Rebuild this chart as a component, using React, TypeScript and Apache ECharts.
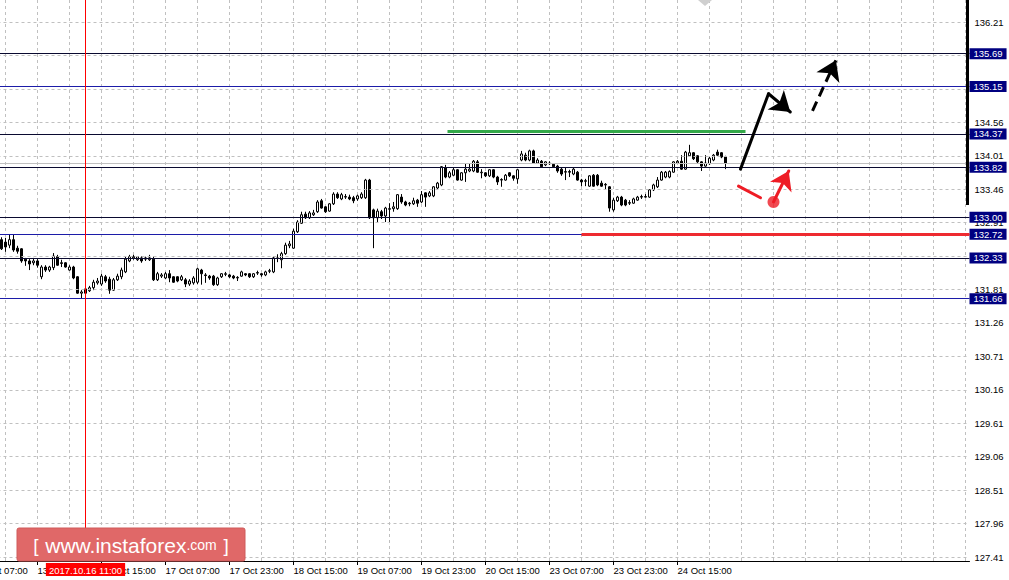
import React, { useEffect, useRef } from "react";
import * as echarts from "echarts";

// ---------- data ----------
const SLOT_COUNT = 259; // hourly slots on the time axis (incl. empty future area)
const FIRST_CANDLE_SLOT = 16;
const FIRST_LABEL_SLOT = 9;
const LABEL_EVERY = 16;
const GRID_EVERY = 8;

const tickLabels = [
  "13 Oct 07:00", "13 Oct 23:00", "16 Oct 15:00", "17 Oct 07:00", "17 Oct 23:00", "18 Oct 15:00",
  "19 Oct 07:00", "19 Oct 23:00", "20 Oct 15:00", "23 Oct 07:00", "23 Oct 23:00", "24 Oct 15:00",
];

const priceTicks = [
  136.21, 135.66, 135.11, 134.56, 134.01, 133.46, 132.91, 132.36, 131.81,
  131.26, 130.71, 130.16, 129.61, 129.06, 128.51, 127.96, 127.41,
];
// tick labels that are not hidden behind a level box
const priceLabels = [
  136.21, 134.56, 134.01, 133.46, 132.91, 131.81,
  131.26, 130.71, 130.16, 129.61, 129.06, 128.51, 127.96, 127.41,
];

const levels = [135.69, 135.15, 134.37, 133.82, 133.0, 132.72, 132.33, 131.66];
const levelColors = ["#0a0a30", "#1c1ca8", "#0a0a30", "#0a0a30", "#0a0a30", "#1c1ca8", "#0a0a30", "#1c1ca8"];

const bidPrice = 133.89;
const crosshairSlot = 37;
const crosshairLabel = "2017.10.16 11:00";

// [open, close, low, high]
const candles = [
  [132.63, 132.48, 132.46, 132.67], [132.59, 132.51, 132.43, 132.66], [132.54, 132.63, 132.49, 132.72],
  [132.63, 132.46, 132.43, 132.72], [132.49, 132.44, 132.40, 132.53], [132.48, 132.28, 132.25, 132.49],
  [132.31, 132.28, 132.20, 132.33], [132.28, 132.23, 132.13, 132.31], [132.25, 132.28, 132.21, 132.33],
  [132.28, 132.21, 132.17, 132.31], [132.02, 132.18, 131.98, 132.21], [132.18, 132.13, 132.10, 132.21],
  [132.13, 132.18, 132.10, 132.20], [132.17, 132.36, 132.13, 132.41], [132.35, 132.21, 132.20, 132.38],
  [132.25, 132.24, 132.18, 132.30], [132.25, 132.18, 132.17, 132.26], [132.13, 132.18, 132.12, 132.21],
  [132.18, 132.00, 131.98, 132.20], [132.02, 131.75, 131.74, 132.03], [131.75, 131.77, 131.66, 131.80],
  [131.82, 131.75, 131.72, 131.85], [131.79, 131.84, 131.77, 131.87], [131.84, 131.93, 131.80, 131.97],
  [131.92, 131.95, 131.89, 132.00], [131.90, 132.03, 131.87, 132.07], [132.02, 131.95, 131.92, 132.05],
  [131.98, 131.80, 131.74, 132.02], [131.80, 131.97, 131.79, 132.00], [131.97, 132.03, 131.95, 132.07],
  [132.02, 132.13, 131.98, 132.17], [132.10, 132.31, 132.08, 132.35], [132.28, 132.35, 132.26, 132.38],
  [132.33, 132.35, 132.30, 132.38], [132.30, 132.35, 132.28, 132.36], [132.33, 132.28, 132.25, 132.36],
  [132.31, 132.33, 132.28, 132.35], [132.30, 132.33, 132.28, 132.38], [132.31, 131.97, 131.95, 132.35],
  [131.97, 132.07, 131.95, 132.10], [132.03, 132.05, 132.00, 132.08], [132.00, 132.07, 131.98, 132.10],
  [132.07, 132.00, 131.93, 132.13], [132.02, 131.93, 131.92, 132.03], [132.02, 131.95, 131.93, 132.03],
  [131.97, 132.02, 131.95, 132.05], [131.97, 131.90, 131.85, 132.00], [131.90, 131.95, 131.87, 131.98],
  [131.92, 132.00, 131.89, 132.03], [131.93, 132.15, 131.90, 132.17], [132.13, 132.07, 131.89, 132.15],
  [132.05, 132.04, 131.92, 132.08], [132.03, 132.00, 131.97, 132.05], [132.03, 131.89, 131.87, 132.05],
  [131.89, 132.00, 131.87, 132.02], [132.02, 132.07, 132.00, 132.08], [132.06, 132.07, 132.03, 132.10],
  [132.05, 132.02, 132.00, 132.07], [132.03, 132.00, 131.98, 132.05], [132.00, 132.01, 131.95, 132.03],
  [132.03, 132.10, 132.02, 132.12], [132.07, 132.05, 132.03, 132.08], [132.07, 132.02, 132.00, 132.08],
  [132.02, 132.07, 132.00, 132.08], [132.08, 132.09, 132.05, 132.12], [132.07, 132.05, 132.02, 132.08],
  [132.05, 132.10, 132.03, 132.12], [132.11, 132.12, 132.08, 132.15], [132.10, 132.33, 132.08, 132.35],
  [132.33, 132.32, 132.26, 132.39], [132.30, 132.40, 132.16, 132.43], [132.40, 132.54, 132.38, 132.58],
  [132.53, 132.56, 132.49, 132.61], [132.49, 132.77, 132.48, 132.81], [132.76, 132.92, 132.74, 132.95],
  [132.90, 133.04, 132.89, 133.09], [133.05, 132.99, 132.97, 133.09], [132.99, 133.07, 132.97, 133.10],
  [133.04, 133.07, 133.02, 133.12], [133.09, 133.25, 133.07, 133.28], [133.27, 133.15, 133.14, 133.30],
  [133.17, 133.09, 133.07, 133.18], [133.10, 133.22, 133.09, 133.23], [133.22, 133.38, 133.20, 133.41],
  [133.38, 133.32, 133.30, 133.41], [133.30, 133.37, 133.28, 133.40], [133.33, 133.34, 133.30, 133.38],
  [133.33, 133.30, 133.28, 133.37], [133.32, 133.27, 133.23, 133.35], [133.30, 133.35, 133.27, 133.37],
  [133.32, 133.38, 133.30, 133.41], [133.32, 133.61, 133.30, 133.63], [133.61, 132.99, 132.97, 133.63],
  [133.12, 132.99, 132.49, 133.14], [132.99, 133.10, 132.92, 133.14], [133.09, 133.02, 132.97, 133.12],
  [133.02, 133.15, 132.92, 133.17], [133.13, 133.14, 132.92, 133.23], [133.14, 133.17, 133.09, 133.25],
  [133.14, 133.37, 133.12, 133.38], [133.33, 133.25, 133.22, 133.38], [133.25, 133.20, 133.18, 133.27],
  [133.22, 133.23, 133.18, 133.25], [133.22, 133.27, 133.20, 133.32], [133.28, 133.23, 133.17, 133.30],
  [133.25, 133.37, 133.23, 133.43], [133.40, 133.33, 133.17, 133.41], [133.35, 133.40, 133.33, 133.43],
  [133.35, 133.50, 133.33, 133.51], [133.48, 133.56, 133.46, 133.58], [133.53, 133.83, 133.51, 133.84],
  [133.81, 133.66, 133.64, 133.86], [133.66, 133.73, 133.64, 133.76], [133.69, 133.78, 133.68, 133.81],
  [133.78, 133.61, 133.60, 133.79], [133.61, 133.73, 133.60, 133.74], [133.73, 133.79, 133.58, 133.88],
  [133.76, 133.79, 133.74, 133.89], [133.76, 133.92, 133.74, 133.94], [133.91, 133.74, 133.73, 133.94],
  [133.73, 133.74, 133.64, 133.79], [133.73, 133.68, 133.66, 133.74], [133.68, 133.78, 133.66, 133.79],
  [133.78, 133.66, 133.64, 133.79], [133.66, 133.58, 133.53, 133.68], [133.61, 133.62, 133.50, 133.64],
  [133.61, 133.69, 133.60, 133.71], [133.73, 133.68, 133.66, 133.74], [133.68, 133.64, 133.60, 133.69],
  [133.63, 133.78, 133.55, 133.79], [133.94, 134.04, 133.92, 134.09], [134.02, 133.94, 133.92, 134.06],
  [133.94, 134.09, 133.92, 134.11], [134.09, 133.89, 133.88, 134.11], [133.89, 133.94, 133.88, 133.97],
  [133.92, 133.83, 133.81, 133.94], [133.86, 133.91, 133.84, 133.92], [133.89, 133.88, 133.86, 133.92],
  [133.87, 133.83, 133.81, 133.89], [133.84, 133.76, 133.73, 133.86], [133.79, 133.71, 133.68, 133.81],
  [133.74, 133.75, 133.61, 133.81], [133.75, 133.74, 133.66, 133.78], [133.71, 133.79, 133.69, 133.81],
  [133.74, 133.61, 133.60, 133.76], [133.61, 133.58, 133.51, 133.63], [133.59, 133.60, 133.51, 133.63],
  [133.51, 133.68, 133.50, 133.69], [133.69, 133.51, 133.50, 133.71], [133.69, 133.53, 133.51, 133.71],
  [133.56, 133.51, 133.50, 133.60], [133.53, 133.54, 133.46, 133.56], [133.50, 133.15, 133.09, 133.51],
  [133.12, 133.28, 133.09, 133.32], [133.27, 133.33, 133.25, 133.35], [133.33, 133.20, 133.18, 133.35],
  [133.28, 133.20, 133.18, 133.30], [133.23, 133.24, 133.20, 133.28], [133.23, 133.30, 133.22, 133.32],
  [133.28, 133.33, 133.27, 133.35], [133.33, 133.34, 133.30, 133.37], [133.33, 133.34, 133.32, 133.38],
  [133.33, 133.45, 133.32, 133.46], [133.45, 133.53, 133.43, 133.55], [133.50, 133.61, 133.48, 133.66],
  [133.61, 133.74, 133.60, 133.76], [133.66, 133.74, 133.64, 133.76], [133.66, 133.75, 133.64, 133.77],
  [133.74, 133.91, 133.73, 133.92], [133.89, 133.92, 133.88, 133.94], [133.92, 133.79, 133.78, 134.02],
  [133.79, 134.07, 133.78, 134.09], [134.01, 134.06, 133.99, 134.19], [134.06, 133.96, 133.94, 134.07],
  [134.01, 133.91, 133.89, 134.02], [133.91, 133.84, 133.76, 133.92], [133.84, 133.89, 133.83, 134.02],
  [133.88, 133.97, 133.86, 133.99], [133.94, 134.02, 133.92, 134.04], [134.07, 134.02, 134.01, 134.11],
  [134.06, 133.99, 133.97, 134.07], [133.99, 133.89, 133.79, 134.01],
];

// forecast drawing, in [slot, price]
const greenLevel = [[127.5, 134.42], [202, 134.42]];
const redLevel = [[161, 132.72], [258, 132.72]];
const blackLeg = [[200.75, 133.79], [207.75, 135.03]];
const blackArrow = [[207.75, 135.03], [213.2, 134.73]];
const dashedArrow = [[218.75, 134.75], [224.6, 135.58]];
const redSegment = [[200.25, 133.51], [205.75, 133.32]];
const redDot = [209, 133.25];
const redArrow = [[209, 133.25], [212.8, 133.76]];

const Y_MIN = 127.345;
const Y_MAX = 136.572;

// ---------- chart ----------
const FONT = "'Liberation Sans', Arial, sans-serif";
const FS = 9.5;
const SHIFT = 64; // chart box starts this many px left of the page so that earlier slots are cut off

const labelIndex = (j: number) => {
  const d = j - FIRST_LABEL_SLOT;
  if (d < 0 || d % LABEL_EVERY !== 0) return -1;
  const i = d / LABEL_EVERY;
  return i < tickLabels.length ? i : -1;
};

export default function App() {
  const ref = useRef<HTMLDivElement>(null);
  useEffect(() => {
    document.body.style.margin = "0";
    document.body.style.overflow = "hidden";
    const chart = echarts.init(ref.current!, null, { renderer: "svg" });
    const slots = Array.from({ length: SLOT_COUNT }, (_, j) => String(j));
    const candleData = candles.map((c, k) => [FIRST_CANDLE_SLOT + k, c[0], c[1], c[2], c[3]]);

    const lineSeries = (coords: number[][], color: string, width: number, extra: any = {}) => ({
      type: "lines",
      coordinateSystem: "cartesian2d",
      xAxisIndex: 1,
      yAxisIndex: 0,
      z: 6,
      silent: true,
      data: [{ coords }],
      lineStyle: { color, width, opacity: 1, curveness: 0, cap: "round", ...(extra.lineStyle || {}) },
      symbol: extra.symbol || ["none", "none"],
      symbolSize: extra.symbolSize || 0,
      itemStyle: { color },
    });

    const option: any = {
      animation: false,
      backgroundColor: "#ffffff",
      grid: { left: 1.5, top: 0, width: 1032, height: 561, containLabel: false },
      xAxis: [
        {
          type: "category",
          data: slots,
          boundaryGap: false,
          axisLine: { show: true, lineStyle: { color: "#000", width: 1 } },
          axisTick: { show: true, length: 4, interval: (i: number) => labelIndex(i) >= 0, lineStyle: { color: "#000" } },
          axisLabel: {
            show: true,
            interval: (i: number) => labelIndex(i) >= 0,
            formatter: (v: string) => tickLabels[labelIndex(Number(v))] || "",
            align: "left",
            margin: 4,
            color: "#000",
            fontFamily: FONT,
            fontSize: FS,
          },
          splitLine: {
            show: true,
            interval: (i: number) => i % GRID_EVERY === 1,
            lineStyle: { color: "#c0c0c0", type: [3, 3], width: 1 },
          },
        },
        { type: "value", min: 0, max: SLOT_COUNT - 1, show: false },
      ],
      yAxis: [
        {
          type: "value",
          position: "right",
          min: Y_MIN,
          max: Y_MAX,
          axisLine: { show: true, lineStyle: { color: "#000", width: 1 } },
          axisTick: { show: true, length: 3, customValues: priceTicks, lineStyle: { color: "#000" } },
          axisLabel: {
            show: true,
            customValues: priceLabels,
            formatter: (v: number) => v.toFixed(2),
            margin: 5,
            color: "#000",
            fontFamily: FONT,
            fontSize: FS,
          },
          splitLine: { show: false },
        },
      ],
      series: [
        {
          type: "candlestick",
          xAxisIndex: 0,
          yAxisIndex: 0,
          z: 3,
          barWidth: 2,
          encode: { x: 0, y: [1, 2, 3, 4] },
          data: candleData,
          itemStyle: { color: "#ffffff", color0: "#000000", borderColor: "#000000", borderColor0: "#000000", borderWidth: 1 },
          markLine: {
            silent: true,
            symbol: ["none", "none"],
            animation: false,
            data: [
              ...priceTicks.map((p) => ({ yAxis: p, lineStyle: { color: "#c0c0c0", type: [3, 3], width: 1 }, label: { show: false } })),
              { yAxis: bidPrice, lineStyle: { color: "#c0c0c0", type: "solid", width: 1 }, label: { show: false } },
              ...levels.map((p, i) => ({
                yAxis: p,
                lineStyle: { color: levelColors[i], type: "solid", width: 1 },
                label: {
                  show: true,
                  position: "end",
                  formatter: p.toFixed(2),
                  backgroundColor: "#000080",
                  color: "#ffffff",
                  padding: [1, 4, 0, 4],
                  distance: 0,
                  fontFamily: FONT,
                  fontSize: FS,
                },
              })),
              {
                xAxis: crosshairSlot,
                lineStyle: { color: "#ff0000", type: "solid", width: 1 },
                label: {
                  show: true,
                  position: "start",
                  formatter: crosshairLabel,
                  backgroundColor: "#ff0000",
                  color: "#ffffff",
                  padding: [2, 3, 1, 3],
                  distance: 2,
                  fontFamily: FONT,
                  fontSize: FS,
                },
              },
            ],
          },
        },
        lineSeries(greenLevel, "#33a849", 3, { lineStyle: { cap: "butt" } }),
        lineSeries(redLevel, "#ee2a30", 3, { lineStyle: { cap: "butt" } }),
        lineSeries(blackLeg, "#000000", 3),
        lineSeries(blackArrow, "#000000", 3, { symbol: ["none", "arrow"], symbolSize: 19 }),
        lineSeries(dashedArrow, "#000000", 3, { symbol: ["none", "arrow"], symbolSize: 19, lineStyle: { type: [10, 6], cap: "butt" } }),
        lineSeries(redSegment, "#ee1c25", 3),
        lineSeries(redArrow, "#ee1c25", 3, { symbol: ["none", "arrow"], symbolSize: 18 }),
        {
          type: "scatter",
          xAxisIndex: 1,
          yAxisIndex: 0,
          z: 7,
          silent: true,
          symbol: "circle",
          symbolSize: 12,
          itemStyle: { color: "#ee1c25" },
          data: [redDot],
        },
      ],
      graphic: [
        { type: "rect", z: 50, shape: { x: 966 + SHIFT, y: 0, width: 3, height: 205 }, style: { fill: "#000" } },
        { type: "polygon", z: 50, shape: { points: [[698 + SHIFT, 0], [705 + SHIFT, 6], [712 + SHIFT, 0]] }, style: { fill: "#cfcfcf" } },
        {
          type: "rect",
          z: 100,
          shape: { x: 17 + SHIFT, y: 528, width: 228, height: 33, r: 2 },
          style: { fill: "#e06868", stroke: "#cf5a5a", lineWidth: 1 },
        },
        {
          type: "text",
          z: 101,
          x: 131 + SHIFT,
          y: 545,
          style: {
            text: "{b|[}  {a|www.instaforex}{c|.com}  {b|]}",
            align: "center",
            verticalAlign: "middle",
            fill: "#ffffff",
            rich: {
              a: { fontSize: 21, fontFamily: FONT, fill: "#ffffff" },
              b: { fontSize: 19, fontFamily: FONT, fill: "#ffffff" },
              c: { fontSize: 14, fontFamily: FONT, fill: "#ffffff" },
            },
          },
        },
      ],
    };
    chart.setOption(option);
    return () => chart.dispose();
  }, []);
  return <div ref={ref} style={{ width: 1009 + SHIFT, height: 580, marginLeft: -SHIFT }} />;
}
